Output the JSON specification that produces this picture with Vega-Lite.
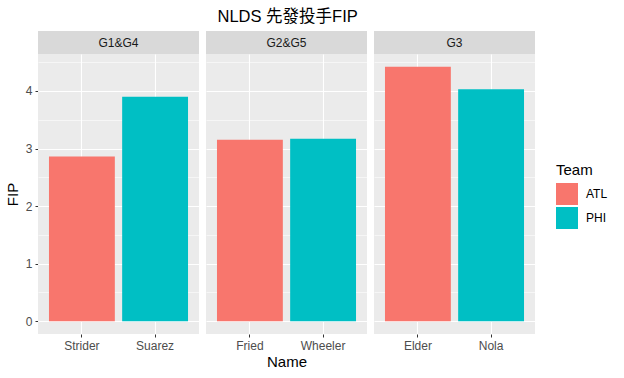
{
  "$schema": "https://vega.github.io/schema/vega-lite/v6.json",
  "background": "white",
  "padding": {"left": 5, "top": 8, "right": 5, "bottom": 5},
  "title": {
    "text": "NLDS 先發投手FIP",
    "fontSize": 16.5,
    "fontWeight": "normal",
    "font": "Liberation Sans, Noto Sans CJK TC, sans-serif",
    "color": "#000000",
    "anchor": "middle",
    "dx": -19,
    "offset": 6
  },
  "datasets": {
    "pitchers": [
      {"Game": "G1&G4", "Name": "Strider", "Team": "ATL", "FIP": 2.86},
      {"Game": "G1&G4", "Name": "Suarez", "Team": "PHI", "FIP": 3.90},
      {"Game": "G2&G5", "Name": "Fried", "Team": "ATL", "FIP": 3.15},
      {"Game": "G2&G5", "Name": "Wheeler", "Team": "PHI", "FIP": 3.17},
      {"Game": "G3", "Name": "Elder", "Team": "ATL", "FIP": 4.42},
      {"Game": "G3", "Name": "Nola", "Team": "PHI", "FIP": 4.03}
    ],
    "games": [
      {"Game": "G1&G4"},
      {"Game": "G2&G5"},
      {"Game": "G3"}
    ]
  },
  "vconcat": [
    {
      "data": {"name": "games"},
      "facet": {"column": {"field": "Game", "type": "nominal", "header": null}},
      "spacing": 7,
      "spec": {
        "width": 161,
        "height": 23,
        "view": {"fill": "#D9D9D9", "stroke": null},
        "mark": {"type": "text", "fontSize": 12, "color": "#1A1A1A", "font": "Liberation Sans"},
        "encoding": {"text": {"field": "Game", "type": "nominal"}}
      }
    },
    {
      "data": {"name": "pitchers"},
      "facet": {
        "column": {
          "field": "Game",
          "type": "nominal",
          "title": "Name",
          "header": {
            "labels": false,
            "titleOrient": "bottom",
            "labelOrient": "bottom",
            "titleFontSize": 15,
            "titleFontWeight": "normal",
            "titleColor": "#000000",
            "titleFont": "Liberation Sans",
            "titlePadding": -6
          }
        }
      },
      "spacing": 7,
      "resolve": {"scale": {"x": "independent"}},
      "spec": {
        "width": 161,
        "height": 280,
        "view": {"fill": "#EBEBEB", "stroke": null},
        "mark": {"type": "bar"},
        "encoding": {
          "x": {
            "field": "Name",
            "type": "nominal",
            "scale": {"paddingInner": 0.1, "paddingOuter": 0.15},
            "axis": {
              "title": null,
              "bandPosition": 0.5,
              "grid": true,
              "gridColor": "#FFFFFF",
              "gridWidth": 1.1,
              "domain": false,
              "tickColor": "#333333",
              "tickSize": 3,
              "labelAngle": 0,
              "labelColor": "#4D4D4D",
              "labelFontSize": 12,
              "labelFont": "Liberation Sans",
              "labelPadding": 3
            }
          },
          "y": {
            "field": "FIP",
            "type": "quantitative",
            "scale": {"domain": [-0.221, 4.641], "nice": false, "zero": false},
            "axis": {
              "title": "FIP",
              "titleFontSize": 15,
              "titleFontWeight": "normal",
              "titleColor": "#000000",
              "titleFont": "Liberation Sans",
              "titlePadding": 5,
              "values": [0, 0.5, 1, 1.5, 2, 2.5, 3, 3.5, 4, 4.5],
              "labelExpr": "datum.value % 1 === 0 ? format(datum.value, 'd') : ''",
              "grid": true,
              "gridColor": "#FFFFFF",
              "gridWidth": {"condition": {"test": "datum.value % 1 !== 0", "value": 0.55}, "value": 1.1},
              "domain": false,
              "tickColor": "#333333",
              "tickSize": 3,
              "tickOpacity": {"condition": {"test": "datum.value % 1 !== 0", "value": 0}, "value": 1},
              "labelColor": "#4D4D4D",
              "labelFontSize": 12,
              "labelFont": "Liberation Sans",
              "labelPadding": 3
            }
          },
          "color": {
            "field": "Team",
            "type": "nominal",
            "scale": {"domain": ["ATL", "PHI"], "range": ["#F8766D", "#00BFC4"]},
            "legend": {
              "title": "Team",
              "orient": "none",
              "legendX": 518,
              "legendY": 132,
              "titleFontSize": 15,
              "titleFontWeight": "normal",
              "titleColor": "#000000",
              "titleFont": "Liberation Sans",
              "titlePadding": 5,
              "labelFontSize": 12,
              "labelFont": "Liberation Sans",
              "labelColor": "#000000",
              "labelOffset": 8,
              "symbolType": "square",
              "symbolSize": 484,
              "symbolStrokeWidth": 0,
              "symbolOpacity": 1,
              "rowPadding": 2
            }
          }
        }
      }
    }
  ],
  "spacing": 23,
  "bounds": "flush",
  "config": {
    "font": "Liberation Sans, Noto Sans CJK TC, sans-serif"
  }
}
